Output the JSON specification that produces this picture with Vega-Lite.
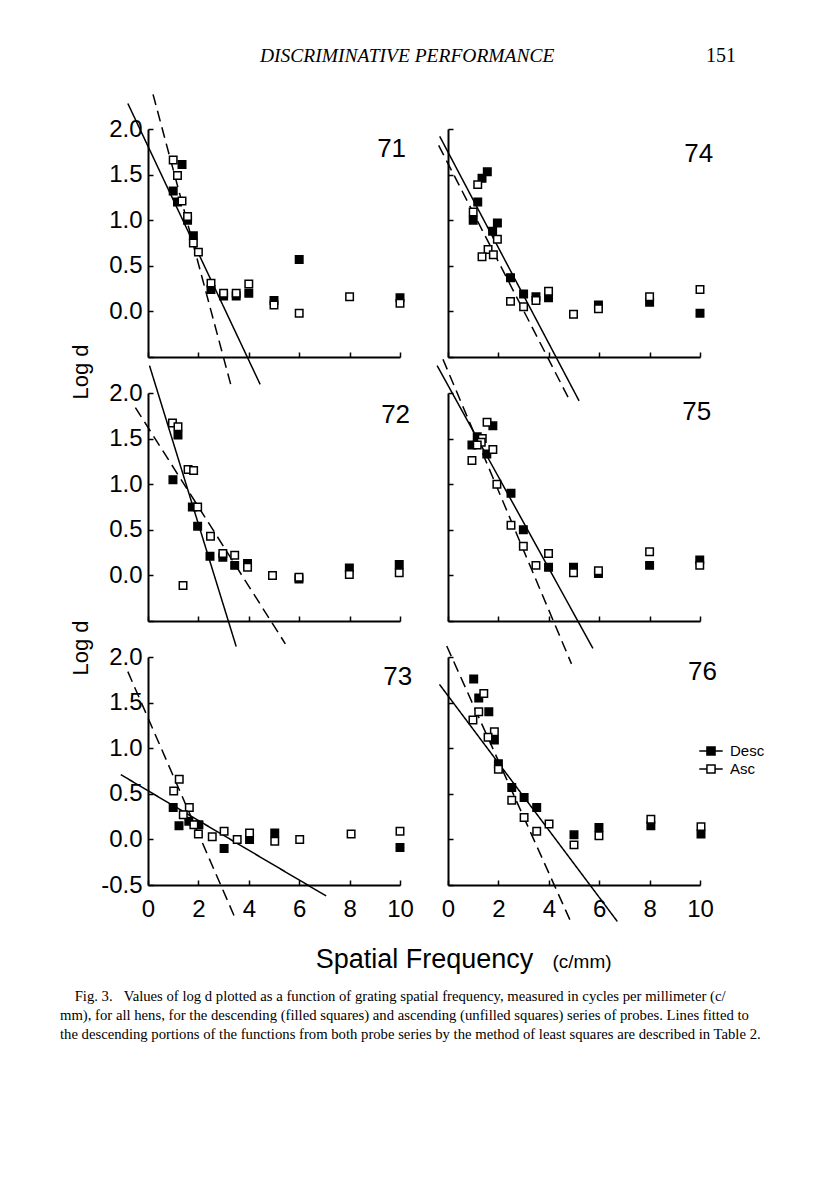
{
  "$schema": "https://vega.github.io/schema/vega-lite/v6.json",
  "background": "white",
  "padding": {"left": 60, "top": 45, "right": 10, "bottom": 10},
  "datasets": {
    "points": [
      {"panel":"71","series":"Desc","x":1.35,"y":1.61},{"panel":"71","series":"Desc","x":1.0,"y":1.32},{"panel":"71","series":"Desc","x":1.17,"y":1.2},{"panel":"71","series":"Desc","x":1.57,"y":1.0},{"panel":"71","series":"Desc","x":1.8,"y":0.83},{"panel":"71","series":"Desc","x":2.5,"y":0.24},{"panel":"71","series":"Desc","x":3.0,"y":0.17},{"panel":"71","series":"Desc","x":3.5,"y":0.17},{"panel":"71","series":"Desc","x":4.0,"y":0.2},{"panel":"71","series":"Desc","x":5.0,"y":0.12},{"panel":"71","series":"Desc","x":6.0,"y":0.57},{"panel":"71","series":"Desc","x":10,"y":0.15},
      {"panel":"71","series":"Asc","x":1.0,"y":1.66},{"panel":"71","series":"Asc","x":1.17,"y":1.49},{"panel":"71","series":"Asc","x":1.35,"y":1.21},{"panel":"71","series":"Asc","x":1.57,"y":1.04},{"panel":"71","series":"Asc","x":1.8,"y":0.75},{"panel":"71","series":"Asc","x":2.0,"y":0.65},{"panel":"71","series":"Asc","x":2.5,"y":0.31},{"panel":"71","series":"Asc","x":3.0,"y":0.2},{"panel":"71","series":"Asc","x":3.5,"y":0.2},{"panel":"71","series":"Asc","x":4.0,"y":0.3},{"panel":"71","series":"Asc","x":5.0,"y":0.07},{"panel":"71","series":"Asc","x":6.0,"y":-0.02},{"panel":"71","series":"Asc","x":8.0,"y":0.16},{"panel":"71","series":"Asc","x":10,"y":0.09},
      {"panel":"74","series":"Desc","x":1.56,"y":1.53},{"panel":"74","series":"Desc","x":1.35,"y":1.46},{"panel":"74","series":"Desc","x":1.18,"y":1.2},{"panel":"74","series":"Desc","x":1.0,"y":1.0},{"panel":"74","series":"Desc","x":1.96,"y":0.97},{"panel":"74","series":"Desc","x":1.77,"y":0.88},{"panel":"74","series":"Desc","x":2.48,"y":0.37},{"panel":"74","series":"Desc","x":3.0,"y":0.19},{"panel":"74","series":"Desc","x":3.49,"y":0.16},{"panel":"74","series":"Desc","x":3.99,"y":0.15},{"panel":"74","series":"Desc","x":5.97,"y":0.07},{"panel":"74","series":"Desc","x":8.0,"y":0.1},{"panel":"74","series":"Desc","x":10,"y":-0.02},
      {"panel":"74","series":"Asc","x":1.18,"y":1.39},{"panel":"74","series":"Asc","x":1.0,"y":1.09},{"panel":"74","series":"Asc","x":1.96,"y":0.79},{"panel":"74","series":"Asc","x":1.59,"y":0.68},{"panel":"74","series":"Asc","x":1.35,"y":0.6},{"panel":"74","series":"Asc","x":1.8,"y":0.62},{"panel":"74","series":"Asc","x":2.48,"y":0.11},{"panel":"74","series":"Asc","x":3.0,"y":0.05},{"panel":"74","series":"Asc","x":3.49,"y":0.12},{"panel":"74","series":"Asc","x":3.99,"y":0.22},{"panel":"74","series":"Asc","x":4.98,"y":-0.03},{"panel":"74","series":"Asc","x":5.97,"y":0.03},{"panel":"74","series":"Asc","x":8.0,"y":0.16},{"panel":"74","series":"Asc","x":10,"y":0.24},
      {"panel":"72","series":"Desc","x":1.19,"y":1.54},{"panel":"72","series":"Desc","x":0.99,"y":1.05},{"panel":"72","series":"Desc","x":1.76,"y":0.75},{"panel":"72","series":"Desc","x":1.97,"y":0.54},{"panel":"72","series":"Desc","x":2.46,"y":0.21},{"panel":"72","series":"Desc","x":2.97,"y":0.2},{"panel":"72","series":"Desc","x":3.44,"y":0.11},{"panel":"72","series":"Desc","x":3.95,"y":0.13},{"panel":"72","series":"Desc","x":5.99,"y":-0.04},{"panel":"72","series":"Desc","x":7.99,"y":0.08},{"panel":"72","series":"Desc","x":9.97,"y":0.12},
      {"panel":"72","series":"Asc","x":0.97,"y":1.67},{"panel":"72","series":"Asc","x":1.19,"y":1.63},{"panel":"72","series":"Asc","x":1.59,"y":1.16},{"panel":"72","series":"Asc","x":1.81,"y":1.15},{"panel":"72","series":"Asc","x":1.97,"y":0.75},{"panel":"72","series":"Asc","x":2.48,"y":0.43},{"panel":"72","series":"Asc","x":2.97,"y":0.24},{"panel":"72","series":"Asc","x":3.44,"y":0.22},{"panel":"72","series":"Asc","x":3.95,"y":0.09},{"panel":"72","series":"Asc","x":1.39,"y":-0.11},{"panel":"72","series":"Asc","x":4.94,"y":0.0},{"panel":"72","series":"Asc","x":5.99,"y":-0.02},{"panel":"72","series":"Asc","x":7.99,"y":0.01},{"panel":"72","series":"Asc","x":9.97,"y":0.03},
      {"panel":"75","series":"Desc","x":1.78,"y":1.64},{"panel":"75","series":"Desc","x":1.16,"y":1.52},{"panel":"75","series":"Desc","x":0.95,"y":1.43},{"panel":"75","series":"Desc","x":1.54,"y":1.33},{"panel":"75","series":"Desc","x":2.5,"y":0.9},{"panel":"75","series":"Desc","x":2.99,"y":0.5},{"panel":"75","series":"Desc","x":3.99,"y":0.09},{"panel":"75","series":"Desc","x":4.98,"y":0.09},{"panel":"75","series":"Desc","x":5.97,"y":0.02},{"panel":"75","series":"Desc","x":8.0,"y":0.11},{"panel":"75","series":"Desc","x":9.99,"y":0.17},
      {"panel":"75","series":"Asc","x":1.55,"y":1.68},{"panel":"75","series":"Asc","x":1.36,"y":1.5},{"panel":"75","series":"Asc","x":1.32,"y":1.46},{"panel":"75","series":"Asc","x":1.16,"y":1.43},{"panel":"75","series":"Asc","x":1.78,"y":1.38},{"panel":"75","series":"Asc","x":0.95,"y":1.26},{"panel":"75","series":"Asc","x":1.94,"y":1.0},{"panel":"75","series":"Asc","x":2.5,"y":0.55},{"panel":"75","series":"Asc","x":2.99,"y":0.32},{"panel":"75","series":"Asc","x":3.49,"y":0.11},{"panel":"75","series":"Asc","x":3.99,"y":0.24},{"panel":"75","series":"Asc","x":4.98,"y":0.03},{"panel":"75","series":"Asc","x":5.97,"y":0.05},{"panel":"75","series":"Asc","x":8.0,"y":0.26},{"panel":"75","series":"Asc","x":9.99,"y":0.11},
      {"panel":"73","series":"Desc","x":1.0,"y":0.35},{"panel":"73","series":"Desc","x":1.23,"y":0.15},{"panel":"73","series":"Desc","x":1.62,"y":0.2},{"panel":"73","series":"Desc","x":2.02,"y":0.16},{"panel":"73","series":"Desc","x":3.02,"y":-0.1},{"panel":"73","series":"Desc","x":4.03,"y":0.0},{"panel":"73","series":"Desc","x":5.03,"y":0.07},{"panel":"73","series":"Desc","x":10,"y":-0.09},
      {"panel":"73","series":"Asc","x":1.02,"y":0.53},{"panel":"73","series":"Asc","x":1.24,"y":0.66},{"panel":"73","series":"Asc","x":1.64,"y":0.35},{"panel":"73","series":"Asc","x":1.4,"y":0.27},{"panel":"73","series":"Asc","x":1.82,"y":0.16},{"panel":"73","series":"Asc","x":2.0,"y":0.06},{"panel":"73","series":"Asc","x":2.55,"y":0.03},{"panel":"73","series":"Asc","x":3.02,"y":0.09},{"panel":"73","series":"Asc","x":3.54,"y":0.0},{"panel":"73","series":"Asc","x":4.03,"y":0.07},{"panel":"73","series":"Asc","x":5.03,"y":-0.02},{"panel":"73","series":"Asc","x":6.02,"y":0.0},{"panel":"73","series":"Asc","x":8.06,"y":0.06},{"panel":"73","series":"Asc","x":10,"y":0.09},
      {"panel":"76","series":"Desc","x":1.02,"y":1.76},{"panel":"76","series":"Desc","x":1.22,"y":1.55},{"panel":"76","series":"Desc","x":1.62,"y":1.4},{"panel":"76","series":"Desc","x":1.84,"y":1.09},{"panel":"76","series":"Desc","x":2.0,"y":0.83},{"panel":"76","series":"Desc","x":2.53,"y":0.57},{"panel":"76","series":"Desc","x":3.02,"y":0.46},{"panel":"76","series":"Desc","x":3.52,"y":0.35},{"panel":"76","series":"Desc","x":5.0,"y":0.05},{"panel":"76","series":"Desc","x":5.99,"y":0.13},{"panel":"76","series":"Desc","x":8.05,"y":0.15},{"panel":"76","series":"Desc","x":10.04,"y":0.06},
      {"panel":"76","series":"Asc","x":1.42,"y":1.6},{"panel":"76","series":"Asc","x":1.22,"y":1.4},{"panel":"76","series":"Asc","x":0.99,"y":1.31},{"panel":"76","series":"Asc","x":1.84,"y":1.18},{"panel":"76","series":"Asc","x":1.59,"y":1.12},{"panel":"76","series":"Asc","x":2.0,"y":0.77},{"panel":"76","series":"Asc","x":2.53,"y":0.43},{"panel":"76","series":"Asc","x":3.02,"y":0.24},{"panel":"76","series":"Asc","x":3.52,"y":0.09},{"panel":"76","series":"Asc","x":4.01,"y":0.17},{"panel":"76","series":"Asc","x":5.0,"y":-0.06},{"panel":"76","series":"Asc","x":5.99,"y":0.04},{"panel":"76","series":"Asc","x":8.05,"y":0.22},{"panel":"76","series":"Asc","x":10.04,"y":0.14}
    ],
    "lines": [
      {"panel":"71","series":"Desc","x":-0.8,"y":2.28},{"panel":"71","series":"Desc","x":4.45,"y":-0.8},
      {"panel":"71","series":"Asc","x":0.2,"y":2.38},{"panel":"71","series":"Asc","x":3.33,"y":-0.85},
      {"panel":"74","series":"Desc","x":-0.33,"y":1.92},{"panel":"74","series":"Desc","x":5.2,"y":-0.98},
      {"panel":"74","series":"Asc","x":-0.37,"y":1.82},{"panel":"74","series":"Asc","x":4.8,"y":-0.96},
      {"panel":"72","series":"Desc","x":0.06,"y":2.3},{"panel":"72","series":"Desc","x":3.5,"y":-0.78},
      {"panel":"72","series":"Asc","x":-0.5,"y":1.84},{"panel":"72","series":"Asc","x":5.45,"y":-0.75},
      {"panel":"75","series":"Desc","x":-0.43,"y":2.3},{"panel":"75","series":"Desc","x":5.75,"y":-0.8},
      {"panel":"75","series":"Asc","x":-0.2,"y":2.37},{"panel":"75","series":"Asc","x":4.9,"y":-0.97},
      {"panel":"73","series":"Desc","x":-1.08,"y":0.71},{"panel":"73","series":"Desc","x":7.07,"y":-0.62},
      {"panel":"73","series":"Asc","x":-0.8,"y":1.84},{"panel":"73","series":"Asc","x":3.5,"y":-0.89},
      {"panel":"76","series":"Desc","x":-0.34,"y":1.7},{"panel":"76","series":"Desc","x":6.72,"y":-0.9},
      {"panel":"76","series":"Asc","x":-0.05,"y":2.12},{"panel":"76","series":"Asc","x":4.9,"y":-0.92}
    ],
    "panels": [{"panel":"71"},{"panel":"72"},{"panel":"73"},{"panel":"74"},{"panel":"75"},{"panel":"76"}]
  },
  "title": {
    "text": [
      "\u200b\u00a0\u00a0\u00a0\u00a0Fig. 3.\u00a0\u00a0\u00a0Values of log d plotted as a function of grating spatial frequency, measured in cycles per millimeter (c/",
      "mm), for all hens, for the descending (filled squares) and ascending (unfilled squares) series of probes. Lines fitted to",
      "the descending portions of the functions from both probe series by the method of least squares are described in Table 2."
    ],
    "orient": "bottom", "anchor": "start", "frame": "group",
    "font": "Liberation Serif", "fontSize": 14.7, "fontWeight": "normal", "color": "black",
    "lineHeight": 19, "dx": -88, "offset": 17, "baseline": "top"
  },
  "bounds": "flush",
  "vconcat": [
    {
      "title": {"text": "151", "anchor": "start", "frame": "group", "font": "Liberation Serif", "fontSize": 20, "fontWeight": "normal", "color": "black", "baseline": "alphabetic", "offset": -35.5, "dx": 558},
      "bounds": "flush",
      "vconcat": [
        {
          "title": {"text": "DISCRIMINATIVE PERFORMANCE", "anchor": "start", "frame": "group", "font": "Liberation Serif", "fontStyle": "italic", "fontWeight": "normal", "fontSize": 19.5, "color": "black", "baseline": "alphabetic", "offset": 9.5, "dx": 112},
          "bounds": "flush",
          "columns": 2,
          "spacing": {"row": 36, "column": 48},
          "resolve": {"legend": {"fill": "independent"}},
          "concat": [
            {
              "width": 252, "height": 228,
              "layer": [
                {"data": {"name": "lines"}, "transform": [{"filter": "datum.panel == '71'"}], "mark": {"type": "line", "color": "black", "strokeWidth": 1.5},
                 "encoding": {
                   "x": {"field": "x", "type": "quantitative", "scale": {"domain": [0, 10], "nice": false, "zero": false}, "axis": {"values": [0,1,2,3,4,5,6,7,8,9,10], "labels": false, "title": null}},
                   "y": {"field": "y", "type": "quantitative", "scale": {"domain": [-0.5, 2], "nice": false, "zero": false}, "axis": {"values": [-0.5,-0.25,0,0.25,0.5,0.75,1,1.25,1.5,1.75,2], "format": ".1f", "labelExpr": "datum.value >= 0 && datum.value % 0.5 == 0 ? datum.label : ''", "labelPadding": 11, "labelOverlap": false, "labelFlush": false, "title": null}},
                   "strokeDash": {"field": "series", "type": "nominal", "scale": {"domain": ["Desc", "Asc"], "range": [[1, 0], [11, 6]]}, "legend": null}}},
                {"data": {"name": "points"}, "transform": [{"filter": "datum.panel == '71'"}], "mark": {"type": "point", "shape": "square", "size": 56, "filled": true, "stroke": "black", "strokeWidth": 1.5, "opacity": 1},
                 "encoding": {
                   "x": {"field": "x", "type": "quantitative", "axis": {"values": [0,1,2,3,4,5,6,7,8,9,10], "labels": false, "title": null}},
                   "y": {"field": "y", "type": "quantitative", "axis": {"values": [-0.5,-0.25,0,0.25,0.5,0.75,1,1.25,1.5,1.75,2], "format": ".1f", "labelExpr": "datum.value >= 0 && datum.value % 0.5 == 0 ? datum.label : ''", "labelPadding": 11, "labelOverlap": false, "labelFlush": false, "title": null}},
                   "fill": {"field": "series", "type": "nominal", "scale": {"domain": ["Desc", "Asc"], "range": ["black", "white"]}, "legend": null}}},
                {"data": {"name": "panels"}, "transform": [{"filter": "datum.panel == '71'"}], "mark": {"type": "text", "align": "right", "baseline": "alphabetic", "fontSize": 26, "font": "Liberation Sans", "color": "black"},
                 "encoding": {"x": {"datum": 10.24, "type": "quantitative"}, "y": {"datum": 1.69, "type": "quantitative"}, "text": {"field": "panel", "type": "nominal"}}}
              ]
            },
            {
              "width": 252, "height": 228,
              "layer": [
                {"data": {"name": "lines"}, "transform": [{"filter": "datum.panel == '74'"}], "mark": {"type": "line", "color": "black", "strokeWidth": 1.5},
                 "encoding": {
                   "x": {"field": "x", "type": "quantitative", "scale": {"domain": [0, 10], "nice": false, "zero": false}, "axis": {"values": [0,1,2,3,4,5,6,7,8,9,10], "labels": false, "title": null}},
                   "y": {"field": "y", "type": "quantitative", "scale": {"domain": [-0.5, 2], "nice": false, "zero": false}, "axis": {"values": [-0.5,-0.25,0,0.25,0.5,0.75,1,1.25,1.5,1.75,2], "labels": false, "title": null}},
                   "strokeDash": {"field": "series", "type": "nominal", "scale": {"domain": ["Desc", "Asc"], "range": [[1, 0], [11, 6]]}, "legend": null}}},
                {"data": {"name": "points"}, "transform": [{"filter": "datum.panel == '74'"}], "mark": {"type": "point", "shape": "square", "size": 56, "filled": true, "stroke": "black", "strokeWidth": 1.5, "opacity": 1},
                 "encoding": {
                   "x": {"field": "x", "type": "quantitative", "axis": {"values": [0,1,2,3,4,5,6,7,8,9,10], "labels": false, "title": null}},
                   "y": {"field": "y", "type": "quantitative", "axis": {"values": [-0.5,-0.25,0,0.25,0.5,0.75,1,1.25,1.5,1.75,2], "labels": false, "title": null}},
                   "fill": {"field": "series", "type": "nominal", "scale": {"domain": ["Desc", "Asc"], "range": ["black", "white"]}, "legend": null}}},
                {"data": {"name": "panels"}, "transform": [{"filter": "datum.panel == '74'"}], "mark": {"type": "text", "align": "right", "baseline": "alphabetic", "fontSize": 26, "font": "Liberation Sans", "color": "black"},
                 "encoding": {"x": {"datum": 10.52, "type": "quantitative"}, "y": {"datum": 1.64, "type": "quantitative"}, "text": {"field": "panel", "type": "nominal"}}}
              ]
            },
            {
              "width": 252, "height": 228,
              "layer": [
                {"data": {"name": "lines"}, "transform": [{"filter": "datum.panel == '72'"}], "mark": {"type": "line", "color": "black", "strokeWidth": 1.5},
                 "encoding": {
                   "x": {"field": "x", "type": "quantitative", "scale": {"domain": [0, 10], "nice": false, "zero": false}, "axis": {"values": [0,1,2,3,4,5,6,7,8,9,10], "labels": false, "title": null}},
                   "y": {"field": "y", "type": "quantitative", "scale": {"domain": [-0.5, 2], "nice": false, "zero": false}, "axis": {"values": [-0.5,-0.25,0,0.25,0.5,0.75,1,1.25,1.5,1.75,2], "format": ".1f", "labelExpr": "datum.value >= 0 && datum.value % 0.5 == 0 ? datum.label : ''", "labelPadding": 11, "labelOverlap": false, "labelFlush": false, "title": "Log d", "titleFontSize": 22, "titleX": -61, "titleY": -21.5, "titleAngle": -90, "titleAlign": "center", "titleBaseline": "alphabetic"}},
                   "strokeDash": {"field": "series", "type": "nominal", "scale": {"domain": ["Desc", "Asc"], "range": [[1, 0], [11, 6]]}, "legend": null}}},
                {"data": {"name": "points"}, "transform": [{"filter": "datum.panel == '72'"}], "mark": {"type": "point", "shape": "square", "size": 56, "filled": true, "stroke": "black", "strokeWidth": 1.5, "opacity": 1},
                 "encoding": {
                   "x": {"field": "x", "type": "quantitative", "axis": {"values": [0,1,2,3,4,5,6,7,8,9,10], "labels": false, "title": null}},
                   "y": {"field": "y", "type": "quantitative", "axis": {"values": [-0.5,-0.25,0,0.25,0.5,0.75,1,1.25,1.5,1.75,2], "format": ".1f", "labelExpr": "datum.value >= 0 && datum.value % 0.5 == 0 ? datum.label : ''", "labelPadding": 11, "labelOverlap": false, "labelFlush": false, "title": "Log d", "titleFontSize": 22, "titleX": -61, "titleY": -21.5, "titleAngle": -90, "titleAlign": "center", "titleBaseline": "alphabetic"}},
                   "fill": {"field": "series", "type": "nominal", "scale": {"domain": ["Desc", "Asc"], "range": ["black", "white"]}, "legend": null}}},
                {"data": {"name": "panels"}, "transform": [{"filter": "datum.panel == '72'"}], "mark": {"type": "text", "align": "right", "baseline": "alphabetic", "fontSize": 26, "font": "Liberation Sans", "color": "black"},
                 "encoding": {"x": {"datum": 10.4, "type": "quantitative"}, "y": {"datum": 1.67, "type": "quantitative"}, "text": {"field": "panel", "type": "nominal"}}}
              ]
            },
            {
              "width": 252, "height": 228,
              "layer": [
                {"data": {"name": "lines"}, "transform": [{"filter": "datum.panel == '75'"}], "mark": {"type": "line", "color": "black", "strokeWidth": 1.5},
                 "encoding": {
                   "x": {"field": "x", "type": "quantitative", "scale": {"domain": [0, 10], "nice": false, "zero": false}, "axis": {"values": [0,1,2,3,4,5,6,7,8,9,10], "labels": false, "title": null}},
                   "y": {"field": "y", "type": "quantitative", "scale": {"domain": [-0.5, 2], "nice": false, "zero": false}, "axis": {"values": [-0.5,-0.25,0,0.25,0.5,0.75,1,1.25,1.5,1.75,2], "labels": false, "title": null}},
                   "strokeDash": {"field": "series", "type": "nominal", "scale": {"domain": ["Desc", "Asc"], "range": [[1, 0], [11, 6]]}, "legend": null}}},
                {"data": {"name": "points"}, "transform": [{"filter": "datum.panel == '75'"}], "mark": {"type": "point", "shape": "square", "size": 56, "filled": true, "stroke": "black", "strokeWidth": 1.5, "opacity": 1},
                 "encoding": {
                   "x": {"field": "x", "type": "quantitative", "axis": {"values": [0,1,2,3,4,5,6,7,8,9,10], "labels": false, "title": null}},
                   "y": {"field": "y", "type": "quantitative", "axis": {"values": [-0.5,-0.25,0,0.25,0.5,0.75,1,1.25,1.5,1.75,2], "labels": false, "title": null}},
                   "fill": {"field": "series", "type": "nominal", "scale": {"domain": ["Desc", "Asc"], "range": ["black", "white"]}, "legend": null}}},
                {"data": {"name": "panels"}, "transform": [{"filter": "datum.panel == '75'"}], "mark": {"type": "text", "align": "right", "baseline": "alphabetic", "fontSize": 26, "font": "Liberation Sans", "color": "black"},
                 "encoding": {"x": {"datum": 10.44, "type": "quantitative"}, "y": {"datum": 1.7, "type": "quantitative"}, "text": {"field": "panel", "type": "nominal"}}}
              ]
            },
            {
              "width": 252, "height": 228,
              "layer": [
                {"data": {"name": "lines"}, "transform": [{"filter": "datum.panel == '73'"}], "mark": {"type": "line", "color": "black", "strokeWidth": 1.5},
                 "encoding": {
                   "x": {"field": "x", "type": "quantitative", "scale": {"domain": [0, 10], "nice": false, "zero": false}, "axis": {"values": [0,1,2,3,4,5,6,7,8,9,10], "format": "d", "labelExpr": "datum.value % 2 == 0 ? datum.label : ''", "labelPadding": 17, "labelFlush": false, "labelOverlap": false, "title": "Spatial Frequency", "titleFontSize": 27, "titleX": 276, "titleY": 82, "titleAlign": "center", "titleBaseline": "alphabetic"}},
                   "y": {"field": "y", "type": "quantitative", "scale": {"domain": [-0.5, 2], "nice": false, "zero": false}, "axis": {"values": [-0.5,-0.25,0,0.25,0.5,0.75,1,1.25,1.5,1.75,2], "format": ".1f", "labelExpr": "datum.value == -0.5 ? '-0.5' : (datum.value % 0.5 == 0 ? datum.label : '')", "labelPadding": 11, "labelOverlap": false, "labelFlush": false, "title": "Log d", "titleFontSize": 22, "titleX": -61, "titleY": -9.5, "titleAngle": -90, "titleAlign": "center", "titleBaseline": "alphabetic"}},
                   "strokeDash": {"field": "series", "type": "nominal", "scale": {"domain": ["Desc", "Asc"], "range": [[1, 0], [11, 6]]}, "legend": null}}},
                {"data": {"name": "points"}, "transform": [{"filter": "datum.panel == '73'"}], "mark": {"type": "point", "shape": "square", "size": 56, "filled": true, "stroke": "black", "strokeWidth": 1.5, "opacity": 1},
                 "encoding": {
                   "x": {"field": "x", "type": "quantitative", "axis": {"values": [0,1,2,3,4,5,6,7,8,9,10], "format": "d", "labelExpr": "datum.value % 2 == 0 ? datum.label : ''", "labelPadding": 17, "labelFlush": false, "labelOverlap": false, "title": "Spatial Frequency", "titleFontSize": 27, "titleX": 276, "titleY": 82, "titleAlign": "center", "titleBaseline": "alphabetic"}},
                   "y": {"field": "y", "type": "quantitative", "axis": {"values": [-0.5,-0.25,0,0.25,0.5,0.75,1,1.25,1.5,1.75,2], "format": ".1f", "labelExpr": "datum.value == -0.5 ? '-0.5' : (datum.value % 0.5 == 0 ? datum.label : '')", "labelPadding": 11, "labelOverlap": false, "labelFlush": false, "title": "Log d", "titleFontSize": 22, "titleX": -61, "titleY": -9.5, "titleAngle": -90, "titleAlign": "center", "titleBaseline": "alphabetic"}},
                   "fill": {"field": "series", "type": "nominal", "scale": {"domain": ["Desc", "Asc"], "range": ["black", "white"]}, "legend": null}}},
                {"data": {"name": "panels"}, "transform": [{"filter": "datum.panel == '73'"}], "mark": {"type": "text", "align": "right", "baseline": "alphabetic", "fontSize": 26, "font": "Liberation Sans", "color": "black"},
                 "encoding": {"x": {"datum": 10.48, "type": "quantitative"}, "y": {"datum": 1.69, "type": "quantitative"}, "text": {"field": "panel", "type": "nominal"}}}
              ]
            },
            {
              "width": 252, "height": 228,
              "layer": [
                {"data": {"name": "lines"}, "transform": [{"filter": "datum.panel == '76'"}], "mark": {"type": "line", "color": "black", "strokeWidth": 1.5},
                 "encoding": {
                   "x": {"field": "x", "type": "quantitative", "scale": {"domain": [0, 10], "nice": false, "zero": false}, "axis": {"values": [0,1,2,3,4,5,6,7,8,9,10], "format": "d", "labelExpr": "datum.value % 2 == 0 ? datum.label : ''", "labelPadding": 17, "labelFlush": false, "labelOverlap": false, "title": "(c/mm)", "titleFontSize": 19, "titleX": 104, "titleY": 82, "titleAlign": "left", "titleBaseline": "alphabetic"}},
                   "y": {"field": "y", "type": "quantitative", "scale": {"domain": [-0.5, 2], "nice": false, "zero": false}, "axis": {"values": [-0.5,-0.25,0,0.25,0.5,0.75,1,1.25,1.5,1.75,2], "labels": false, "title": null}},
                   "strokeDash": {"field": "series", "type": "nominal", "scale": {"domain": ["Desc", "Asc"], "range": [[1, 0], [11, 6]]}, "legend": null}}},
                {"data": {"name": "points"}, "transform": [{"filter": "datum.panel == '76'"}], "mark": {"type": "point", "shape": "square", "size": 56, "filled": true, "stroke": "black", "strokeWidth": 1.5, "opacity": 1},
                 "encoding": {
                   "x": {"field": "x", "type": "quantitative", "axis": {"values": [0,1,2,3,4,5,6,7,8,9,10], "format": "d", "labelExpr": "datum.value % 2 == 0 ? datum.label : ''", "labelPadding": 17, "labelFlush": false, "labelOverlap": false, "title": "(c/mm)", "titleFontSize": 19, "titleX": 104, "titleY": 82, "titleAlign": "left", "titleBaseline": "alphabetic"}},
                   "y": {"field": "y", "type": "quantitative", "axis": {"values": [-0.5,-0.25,0,0.25,0.5,0.75,1,1.25,1.5,1.75,2], "labels": false, "title": null}},
                   "fill": {"field": "series", "type": "nominal", "scale": {"domain": ["Desc", "Asc"], "range": ["black", "white"]}, "legend": {"title": null, "orient": "none", "legendX": 253, "legendY": 84, "symbolType": "M-1.3,0H-0.5M0.5,0H1.3M-0.45,-0.45H0.45V0.45H-0.45Z", "symbolSize": 324, "symbolStrokeWidth": 1.5, "symbolStrokeColor": "black", "symbolOpacity": 1, "labelFont": "Liberation Sans", "labelFontSize": 15, "labelColor": "black", "labelOffset": 9, "rowPadding": 0, "padding": 0, "encode": {"symbols": {"update": {"stroke": {"value": "black"}, "strokeWidth": {"value": 1.5}, "opacity": {"value": 1}}}}}}}},
                {"data": {"name": "panels"}, "transform": [{"filter": "datum.panel == '76'"}], "mark": {"type": "text", "align": "right", "baseline": "alphabetic", "fontSize": 26, "font": "Liberation Sans", "color": "black"},
                 "encoding": {"x": {"datum": 10.67, "type": "quantitative"}, "y": {"datum": 1.75, "type": "quantitative"}, "text": {"field": "panel", "type": "nominal"}}}
              ]
            }
          ]
        }
      ]
    }
  ],
  "config": {
    "view": {"stroke": null},
    "font": "Liberation Sans",
    "axis": {"grid": false, "domainColor": "black", "domainWidth": 2, "tickColor": "black", "tickWidth": 1.5, "tickSize": -5, "labelColor": "black", "labelFont": "Liberation Sans", "labelFontSize": 24, "titleColor": "black", "titleFont": "Liberation Sans", "titleFontWeight": "normal"}
  }
}
